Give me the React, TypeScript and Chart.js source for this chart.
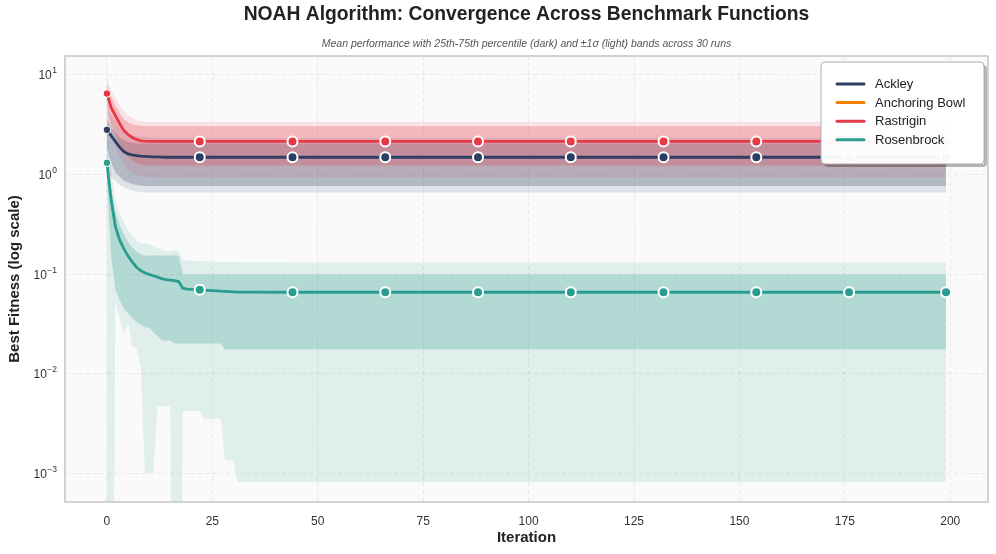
import React, { useEffect, useRef } from "react";
import { Chart, registerables } from "chart.js";

Chart.register(...registerables);

// ---------------- DATA ----------------
// Iterations sampled (per-iteration early, plateau afterwards; last run index is 199)
const ITERS = [
  0, 1, 2, 3, 4, 5, 6, 7, 8, 9, 10, 11, 12, 13, 14, 15, 16, 17, 18, 19, 20, 21, 22, 23, 24, 25, 26, 27, 28, 29,
  30, 31, 32, 44, 66, 88, 110, 132, 154, 176, 199,
];
const MARKER_ITERS = [22, 44, 66, 88, 110, 132, 154, 176, 199];
const START_ITER = 0;

const X_TICKS = [0, 25, 50, 75, 100, 125, 150, 175, 200];
const Y_TICKS = [1e-3, 1e-2, 1e-1, 1, 10];
const Y_TICK_BASE = "10";
const Y_TICK_EXPONENTS = ["−3", "−2", "−1", "0", "1"];

const SERIES_NAMES = ["Ackley", "Anchoring Bowl", "Rastrigin", "Rosenbrock"];
const SERIES_COLORS = ["#2c3e62", "#f77f00", "#e63946", "#2a9d8f"];

// mean - sigma <= 0 : lies below the log axis
const BELOW = 1e-8;

const ACKLEY_MEAN = [
  2.81, 2.45, 2.15, 1.88, 1.7, 1.61, 1.57, 1.55, 1.53, 1.52, 1.51, 1.505, 1.5, 1.495, 1.49, 1.49, 1.49, 1.49, 1.49,
  1.49, 1.49, 1.49, 1.49, 1.49, 1.49, 1.49, 1.49, 1.49, 1.49, 1.49, 1.49, 1.49, 1.49, 1.49, 1.49, 1.49, 1.49, 1.49,
  1.49, 1.49, 1.49,
];
const ACKLEY_P25 = [
  1.9, 1.3, 1.05, 0.95, 0.87, 0.83, 0.8, 0.785, 0.775, 0.765, 0.765, 0.765, 0.765, 0.765, 0.765, 0.765, 0.765, 0.765,
  0.765, 0.765, 0.765, 0.765, 0.765, 0.765, 0.765, 0.765, 0.765, 0.765, 0.765, 0.765, 0.765, 0.765, 0.765, 0.765,
  0.765, 0.765, 0.765, 0.765, 0.765, 0.765, 0.765,
];
const ACKLEY_P75 = [
  3.5, 3.0, 2.6, 2.35, 2.2, 2.12, 2.08, 2.06, 2.05, 2.05, 2.05, 2.05, 2.05, 2.05, 2.05, 2.05, 2.05, 2.05, 2.05, 2.05,
  2.05, 2.05, 2.05, 2.05, 2.05, 2.05, 2.05, 2.05, 2.05, 2.05, 2.05, 2.05, 2.05, 2.05, 2.05, 2.05, 2.05, 2.05, 2.05,
  2.05, 2.05,
];
const ACKLEY_LO = [
  1.1, 0.95, 0.86, 0.79, 0.74, 0.71, 0.69, 0.675, 0.665, 0.66, 0.66, 0.66, 0.66, 0.66, 0.66, 0.66, 0.66, 0.66, 0.66,
  0.66, 0.66, 0.66, 0.66, 0.66, 0.66, 0.66, 0.66, 0.66, 0.66, 0.66, 0.66, 0.66, 0.66, 0.66, 0.66, 0.66, 0.66, 0.66,
  0.66, 0.66, 0.66,
];
const ACKLEY_HI = [
  4.52, 3.95, 3.44, 2.97, 2.66, 2.51, 2.45, 2.425, 2.395, 2.38, 2.36, 2.35, 2.34, 2.33, 2.32, 2.32, 2.32, 2.32, 2.32,
  2.32, 2.32, 2.32, 2.32, 2.32, 2.32, 2.32, 2.32, 2.32, 2.32, 2.32, 2.32, 2.32, 2.32, 2.32, 2.32, 2.32, 2.32, 2.32,
  2.32, 2.32, 2.32,
];

// Anchoring Bowl: listed in the legend, no visible values on the log axis
const ANCHORING_BOWL_MEAN: (number | null)[] = [];

const RASTRIGIN_MEAN = [
  6.5, 4.7, 3.9, 3.25, 2.77, 2.52, 2.35, 2.25, 2.18, 2.16, 2.15, 2.15, 2.15, 2.15, 2.15, 2.15, 2.15, 2.15, 2.15, 2.15,
  2.15, 2.15, 2.15, 2.15, 2.15, 2.15, 2.15, 2.15, 2.15, 2.15, 2.15, 2.15, 2.15, 2.15, 2.15, 2.15, 2.15, 2.15, 2.15,
  2.15, 2.15,
];
const RASTRIGIN_P25 = [
  4.8, 3.2, 2.5, 2.05, 1.7, 1.5, 1.38, 1.3, 1.26, 1.24, 1.23, 1.23, 1.23, 1.23, 1.23, 1.23, 1.23, 1.23, 1.23, 1.23,
  1.23, 1.23, 1.23, 1.23, 1.23, 1.23, 1.23, 1.23, 1.23, 1.23, 1.23, 1.23, 1.23, 1.23, 1.23, 1.23, 1.23, 1.23, 1.23,
  1.23, 1.23,
];
const RASTRIGIN_P75 = [
  8.0, 6.0, 4.9, 4.1, 3.6, 3.35, 3.2, 3.12, 3.08, 3.06, 3.06, 3.06, 3.06, 3.06, 3.06, 3.06, 3.06, 3.06, 3.06, 3.06,
  3.06, 3.06, 3.06, 3.06, 3.06, 3.06, 3.06, 3.06, 3.06, 3.06, 3.06, 3.06, 3.06, 3.06, 3.06, 3.06, 3.06, 3.06, 3.06,
  3.06, 3.06,
];
const RASTRIGIN_LO = [
  3.6, 2.4, 1.9, 1.5, 1.25, 1.1, 1.02, 0.98, 0.96, 0.95, 0.94, 0.94, 0.94, 0.94, 0.94, 0.94, 0.94, 0.94, 0.94, 0.94,
  0.94, 0.94, 0.94, 0.94, 0.94, 0.94, 0.94, 0.94, 0.94, 0.94, 0.94, 0.94, 0.94, 0.94, 0.94, 0.94, 0.94, 0.94, 0.94,
  0.94, 0.94,
];
const RASTRIGIN_HI = [
  9.4, 7.0, 5.9, 5.0, 4.29, 3.94, 3.68, 3.52, 3.4, 3.37, 3.36, 3.36, 3.36, 3.36, 3.36, 3.36, 3.36, 3.36, 3.36, 3.36,
  3.36, 3.36, 3.36, 3.36, 3.36, 3.36, 3.36, 3.36, 3.36, 3.36, 3.36, 3.36, 3.36, 3.36, 3.36, 3.36, 3.36, 3.36, 3.36,
  3.36, 3.36,
];

const ROSENBROCK_MEAN = [
  1.31, 0.55, 0.3, 0.22, 0.18, 0.152, 0.132, 0.117, 0.108, 0.103, 0.099, 0.096, 0.093, 0.09, 0.088, 0.087, 0.086,
  0.084, 0.072, 0.0705, 0.07, 0.0697, 0.0694, 0.0688, 0.0684, 0.0681, 0.0678, 0.0672, 0.0668, 0.0665, 0.0662, 0.0659,
  0.0657, 0.0656, 0.0656, 0.0656, 0.0656, 0.0656, 0.0656, 0.0656, 0.0656,
];
const ROSENBROCK_P25 = [
  0.9, 0.15, 0.07, 0.055, 0.045, 0.04, 0.036, 0.033, 0.031, 0.029, 0.029, 0.026, 0.024, 0.0215, 0.0215, 0.0215, 0.02,
  0.02, 0.02, 0.02, 0.02, 0.02, 0.02, 0.02, 0.02, 0.02, 0.02, 0.02, 0.0174, 0.0174, 0.0174, 0.0174, 0.0174, 0.0174,
  0.0174, 0.0174, 0.0174, 0.0174, 0.0174, 0.0174, 0.0174,
];
const ROSENBROCK_P75 = [
  1.45, 0.72, 0.42, 0.31, 0.25, 0.21, 0.185, 0.168, 0.158, 0.153, 0.153, 0.153, 0.153, 0.153, 0.153, 0.153, 0.153,
  0.153, 0.1, 0.099, 0.099, 0.099, 0.099, 0.099, 0.099, 0.099, 0.099, 0.099, 0.099, 0.099, 0.099, 0.099, 0.099, 0.099,
  0.099, 0.099, 0.099, 0.099, 0.099, 0.099, 0.099,
];
const ROSENBROCK_LO = [
  BELOW, BELOW, 0.054, 0.036, 0.025, 0.032, 0.019, 0.018, 0.012, 0.001, 0.001, 0.001, 0.0047, 0.0047, 0.0047, 0.0047,
  BELOW, BELOW, 0.0042, 0.0042, 0.0042, 0.0042, 0.0042, 0.0035, 0.0035, 0.0035, 0.0035, 0.0035, 0.00134, 0.00134,
  0.00134, 0.00081, 0.00081, 0.00081, 0.00081, 0.00081, 0.00081, 0.00081, 0.00081, 0.00081, 0.00081,
];
const ROSENBROCK_HI = [
  2.7, 1.15, 0.55, 0.4, 0.335, 0.272, 0.245, 0.216, 0.204, 0.205, 0.197, 0.191, 0.181, 0.175, 0.171, 0.169, 0.175,
  0.17, 0.14, 0.137, 0.136, 0.135, 0.135, 0.134, 0.133, 0.133, 0.132, 0.131, 0.132, 0.132, 0.131, 0.131, 0.131, 0.1304,
  0.1304, 0.1304, 0.1304, 0.1304, 0.1304, 0.1304, 0.1304,
];

const TITLE = "NOAH Algorithm: Convergence Across Benchmark Functions";
const SUBTITLE = "Mean performance with 25th-75th percentile (dark) and ±1σ (light) bands across 30 runs";
const X_TITLE = "Iteration";
const Y_TITLE = "Best Fitness (log scale)";

// ---------------- STYLE / BUILD ----------------
const FONT = '"Liberation Sans", Arial, Helvetica, sans-serif';

function rgba(hex: string, a: number) {
  const n = parseInt(hex.slice(1), 16);
  return `rgba(${(n >> 16) & 255},${(n >> 8) & 255},${n & 255},${a})`;
}

type Series = {
  name: string;
  color: string;
  mean: (number | null)[];
  p25: number[];
  p75: number[];
  lo: number[];
  hi: number[];
};

const SERIES: Series[] = [
  { name: SERIES_NAMES[0], color: SERIES_COLORS[0], mean: ACKLEY_MEAN, p25: ACKLEY_P25, p75: ACKLEY_P75, lo: ACKLEY_LO, hi: ACKLEY_HI },
  { name: SERIES_NAMES[1], color: SERIES_COLORS[1], mean: ANCHORING_BOWL_MEAN, p25: [], p75: [], lo: [], hi: [] },
  { name: SERIES_NAMES[2], color: SERIES_COLORS[2], mean: RASTRIGIN_MEAN, p25: RASTRIGIN_P25, p75: RASTRIGIN_P75, lo: RASTRIGIN_LO, hi: RASTRIGIN_HI },
  { name: SERIES_NAMES[3], color: SERIES_COLORS[3], mean: ROSENBROCK_MEAN, p25: ROSENBROCK_P25, p75: ROSENBROCK_P75, lo: ROSENBROCK_LO, hi: ROSENBROCK_HI },
];

const toPts = (arr: (number | null)[]) => arr.map((y, i) => ({ x: ITERS[i], y }));

function buildDatasets() {
  const ds: any[] = [];
  let order = 200;
  const bandBase = {
    borderWidth: 0,
    borderColor: "rgba(0,0,0,0)",
    pointRadius: 0,
    pointHoverRadius: 0,
    tension: 0,
  };
  SERIES.forEach((s) => {
    if (!s.lo.length) return;
    const loIdx = ds.length;
    ds.push({ ...bandBase, label: "", data: toPts(s.lo), fill: false, order: order-- });
    ds.push({ ...bandBase, label: "", data: toPts(s.hi), fill: loIdx, backgroundColor: rgba(s.color, 0.12), order: order-- });
    const p25Idx = ds.length;
    ds.push({ ...bandBase, label: "", data: toPts(s.p25), fill: false, order: order-- });
    ds.push({ ...bandBase, label: "", data: toPts(s.p75), fill: p25Idx, backgroundColor: rgba(s.color, 0.25), order: order-- });
  });
  SERIES.forEach((s, si) => {
    ds.push({
      label: s.name,
      data: toPts(s.mean),
      borderColor: s.color,
      backgroundColor: s.color,
      borderWidth: 2.8,
      tension: 0,
      fill: false,
      order: 10 - si,
      pointBackgroundColor: s.color,
      pointBorderColor: "#ffffff",
      pointRadius: (c: any) => {
        const x = ITERS[c.dataIndex];
        if (x === START_ITER) return 3.8;
        return MARKER_ITERS.includes(x) ? 5 : 0;
      },
      pointBorderWidth: (c: any) => (ITERS[c.dataIndex] === START_ITER ? 1 : 2),
      pointHoverRadius: 0,
    });
  });
  return ds;
}

const decorPlugin = {
  id: "decor",
  beforeDraw(chart: any) {
    const { ctx, chartArea: a, width, height } = chart;
    ctx.save();
    ctx.fillStyle = "#ffffff";
    ctx.fillRect(0, 0, width, height);
    ctx.fillStyle = "#fafafa";
    ctx.fillRect(a.left, a.top, a.right - a.left, a.bottom - a.top);
    ctx.restore();
  },
  afterDraw(chart: any) {
    const { ctx, chartArea: a } = chart;
    ctx.save();
    // frame
    ctx.strokeStyle = "#c8c8c8";
    ctx.lineWidth = 1.6;
    ctx.strokeRect(a.left, a.top, a.right - a.left, a.bottom - a.top);

    // y tick labels with superscript exponents
    const ys = chart.scales.y;
    ctx.fillStyle = "#333333";
    ctx.textBaseline = "alphabetic";
    ctx.textAlign = "left";
    Y_TICKS.forEach((v, i) => {
      const y = ys.getPixelForValue(v);
      const exp = Y_TICK_EXPONENTS[i];
      ctx.font = `8.5px ${FONT}`;
      const ew = ctx.measureText(exp).width;
      ctx.font = `12px ${FONT}`;
      const bw = ctx.measureText(Y_TICK_BASE).width;
      const right = a.left - 8;
      const bx = right - ew - bw - 0.5;
      ctx.fillText(Y_TICK_BASE, bx, y + 4.5);
      ctx.font = `8.5px ${FONT}`;
      ctx.fillText(exp, bx + bw + 0.5, y - 1.5);
    });

    // titles
    const cx = (a.left + a.right) / 2;
    ctx.fillStyle = "#222222";
    ctx.textAlign = "center";
    ctx.textBaseline = "middle";
    ctx.font = `bold 19.3px ${FONT}`;
    ctx.fillText(TITLE, cx, 15);
    ctx.fillStyle = "#555555";
    ctx.font = `italic 10.5px ${FONT}`;
    ctx.fillText(SUBTITLE, cx, 44);

    // legend
    const bx = 821, by = 62, bw = 163, bh = 102, r = 4;
    const rr = (x: number, y: number, w: number, h: number) => {
      ctx.beginPath();
      ctx.moveTo(x + r, y);
      ctx.lineTo(x + w - r, y);
      ctx.quadraticCurveTo(x + w, y, x + w, y + r);
      ctx.lineTo(x + w, y + h - r);
      ctx.quadraticCurveTo(x + w, y + h, x + w - r, y + h);
      ctx.lineTo(x + r, y + h);
      ctx.quadraticCurveTo(x, y + h, x, y + h - r);
      ctx.lineTo(x, y + r);
      ctx.quadraticCurveTo(x, y, x + r, y);
      ctx.closePath();
    };
    ctx.save();
    ctx.beginPath();
    ctx.rect(0, 0, chart.width, chart.height);
    ctx.rect(bx, by, bw, bh);
    ctx.clip("evenodd");
    rr(bx + 3, by + 3, bw, bh);
    ctx.fillStyle = "rgba(0,0,0,0.28)";
    ctx.fill();
    ctx.restore();
    rr(bx, by, bw, bh);
    ctx.fillStyle = "rgba(255,255,255,0.96)";
    ctx.fill();
    ctx.strokeStyle = "#b0b0b0";
    ctx.lineWidth = 1;
    ctx.stroke();
    ctx.textAlign = "left";
    ctx.textBaseline = "middle";
    ctx.font = `13px ${FONT}`;
    SERIES.forEach((s, i) => {
      const y = 84 + i * 18.6;
      ctx.strokeStyle = s.color;
      ctx.lineWidth = 3;
      ctx.lineCap = "round";
      ctx.beginPath();
      ctx.moveTo(837, y);
      ctx.lineTo(864, y);
      ctx.stroke();
      ctx.fillStyle = "#222222";
      ctx.fillText(s.name, 875, y + 0.5);
    });
    ctx.restore();
  },
};

export default function App() {
  const ref = useRef<HTMLCanvasElement | null>(null);
  useEffect(() => {
    document.body.style.margin = "0";
    if (!ref.current) return;
    Chart.defaults.font.family = FONT;
    const chart = new Chart(ref.current, {
      type: "line",
      data: { datasets: buildDatasets() },
      options: {
        animation: false,
        responsive: false,
        devicePixelRatio: 1,
        events: [],
        layout: { padding: { top: 56, right: 8, left: 0, bottom: 0 } },
        plugins: {
          legend: { display: false },
          title: { display: false },
          tooltip: { enabled: false },
          filler: { propagate: false },
        },
        scales: {
          x: {
            type: "linear",
            min: -9.95,
            max: 208.95,
            afterBuildTicks: (s: any) => {
              s.ticks = X_TICKS.map((v) => ({ value: v }));
            },
            afterFit: (s: any) => {
              s.height = 52;
            },
            ticks: {
              autoSkip: false,
              maxRotation: 0,
              padding: 12,
              color: "#333333",
              font: { size: 12, family: FONT },
              callback: (v: any) => String(v),
            },
            grid: { color: "rgba(0,0,0,0.09)", lineWidth: 0.8, drawTicks: false },
            border: { display: false, dash: [4, 3] },
            title: {
              display: true,
              text: X_TITLE,
              color: "#222222",
              font: { size: 15, weight: "bold", family: FONT },
              padding: { top: 0, bottom: 7 },
            },
          },
          y: {
            type: "logarithmic",
            min: 5.12e-4,
            max: 15.5,
            afterBuildTicks: (s: any) => {
              s.ticks = Y_TICKS.map((v) => ({ value: v }));
            },
            afterFit: (s: any) => {
              s.width = 65;
            },
            ticks: {
              autoSkip: false,
              padding: 8,
              color: "#333333",
              font: { size: 12, family: FONT },
              callback: () => "",
            },
            grid: { color: "rgba(0,0,0,0.09)", lineWidth: 0.8, drawTicks: false },
            border: { display: false, dash: [4, 3] },
            title: {
              display: true,
              text: Y_TITLE,
              color: "#222222",
              font: { size: 15, weight: "bold", family: FONT },
              padding: { top: 6, bottom: 0 },
            },
          },
        },
      } as any,
      plugins: [decorPlugin],
    });
    return () => chart.destroy();
  }, []);
  return (
    <div style={{ position: "relative", width: 996, height: 554 }}>
      <canvas ref={ref} width={996} height={554} style={{ display: "block" }} />
    </div>
  );
}
